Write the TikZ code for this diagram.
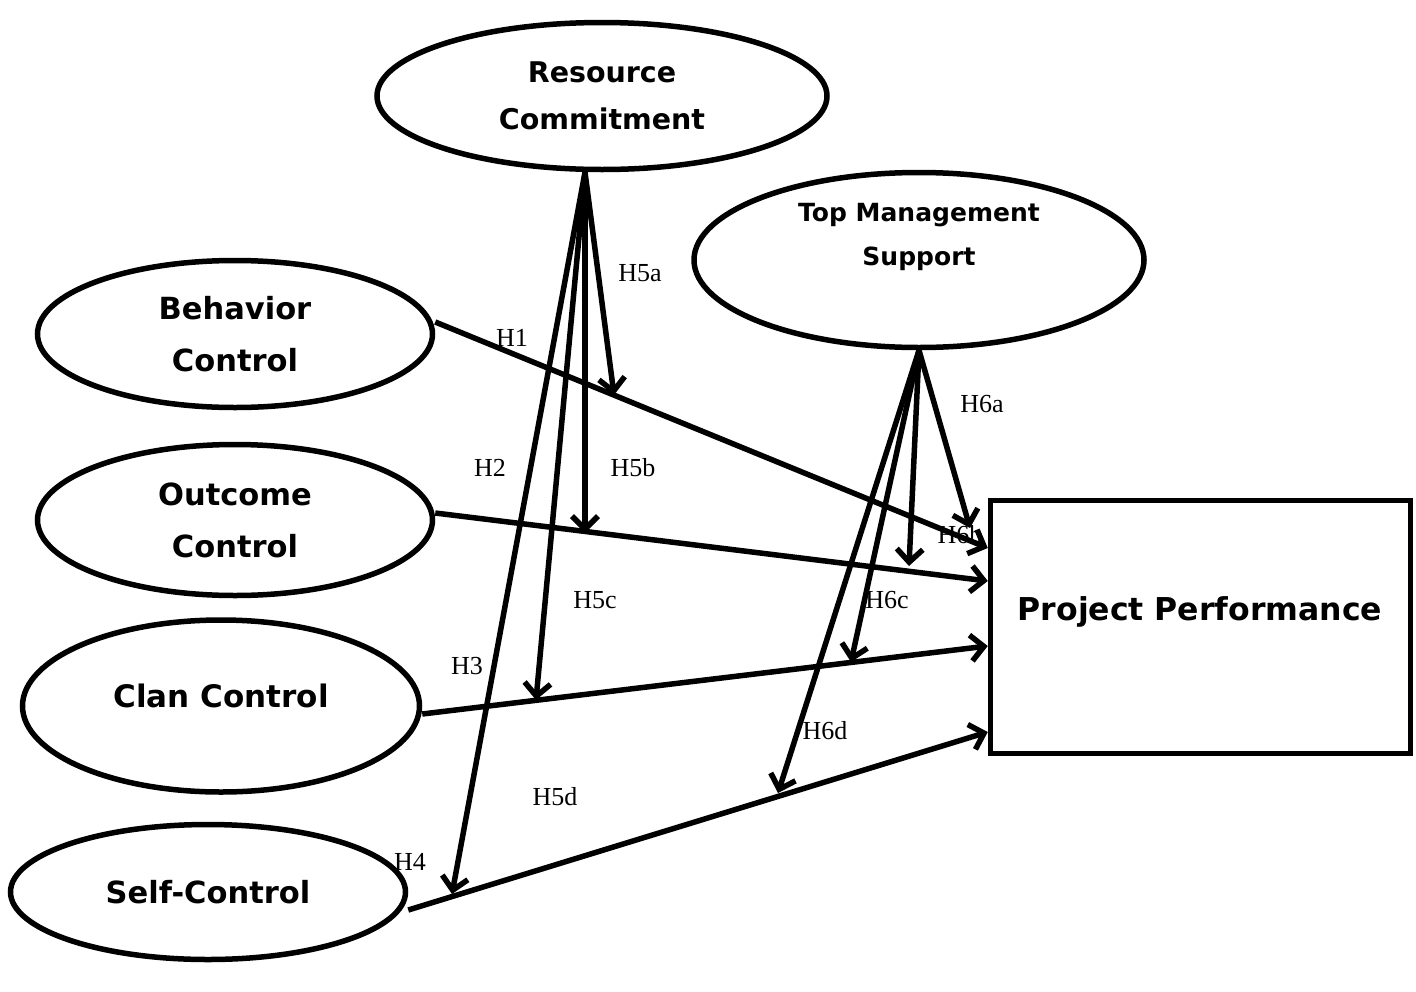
\documentclass[tikz,border=0pt]{standalone}
\usepackage{fontspec}
\setmainfont{Liberation Serif}
\newfontfamily\constructfont{DejaVu Sans}
\usetikzlibrary{shapes.geometric,arrows.meta}

\begin{document}
\begin{tikzpicture}[x=1pt,y=-1pt,
  construct/.style={ellipse, draw, line width=5.5pt, inner sep=0pt, align=center,
    font=\constructfont\bfseries\fontsize{30.5}{52}\selectfont},
  outcomebox/.style={rectangle, draw, line width=5.5pt, inner sep=0pt},
  path/.style={line width=5.5pt, -{Straight Barb[length=13pt,width=26pt]}},
  hyp/.style={font=\fontsize{26}{26}\selectfont, inner sep=0pt}]

\useasboundingbox (0,0) rectangle (1416,991);

% constructs
\node[construct, minimum width=450pt, minimum height=147pt,
      font=\constructfont\bfseries\fontsize{28.5}{47}\selectfont] (rc) at (602,96) {Resource\\Commitment};
\node[construct, minimum width=450pt, minimum height=175pt] (tms) at (919,260) {};
\node[font=\constructfont\bfseries\fontsize{25}{44}\selectfont, align=center] (tmst) at (919,237) {Top Management\\Support};
\node[construct, minimum width=395pt, minimum height=147pt] (bc) at (235,334) {Behavior\\Control};
\node[construct, minimum width=395pt, minimum height=151pt] (oc) at (235,520) {Outcome\\Control};
\node[construct, minimum width=397pt, minimum height=172pt] (cc) at (221,706) {};
\node[font=\constructfont\bfseries\fontsize{31}{36}\selectfont] (cct) at (221,696) {Clan Control};
\node[construct, minimum width=395pt, minimum height=135pt] (sc) at (208,892) {Self-Control};

\node[outcomebox, minimum width=420pt, minimum height=253pt] (pp) at (1200.5,627) {};
\node[font=\constructfont\bfseries\fontsize{31.5}{36}\selectfont] (ppt) at (1200,612) {Project Performance};

% end points of the moderating paths
\coordinate (m5a) at (614,395);
\coordinate (m5b) at (585,533);
\coordinate (m5c) at (536,700);
\coordinate (m5d) at (452,894);
\coordinate (m6a) at (970,528);
\coordinate (m6b) at (909,566);
\coordinate (m6c) at (851,662);
\coordinate (m6d) at (778,793);

% direct effects
\draw[path] ([yshift=12pt]bc.east) -- ([yshift=79pt]pp.west);
\draw[path] ([yshift=7pt]oc.east) -- ([yshift=46pt]pp.west);
\draw[path] ([yshift=-8pt]cc.east) -- ([yshift=-19pt]pp.west);
\draw[path] ([yshift=-18pt]sc.east) -- ([yshift=-105pt]pp.west);

% moderation by resource commitment
\draw[path] ([xshift=-17pt]rc.south) -- (m5a);
\draw[path] ([xshift=-17pt]rc.south) -- (m5b);
\draw[path] ([xshift=-17pt]rc.south) -- (m5c);
\draw[path] ([xshift=-17pt]rc.south) -- (m5d);

% moderation by top management support
\draw[path] (tms.south) -- (m6a);
\draw[path] (tms.south) -- (m6b);
\draw[path] (tms.south) -- (m6c);
\draw[path] (tms.south) -- (m6d);

% hypothesis labels
\node[hyp] (h1) at (512,338) {H1};
\node[hyp] (h2) at (490,468) {H2};
\node[hyp] (h3) at (467,666) {H3};
\node[hyp] (h4) at (410,862) {H4};
\node[hyp] (h5a) at (640,273) {H5a};
\node[hyp] (h5b) at (633,468) {H5b};
\node[hyp] (h5c) at (595,600) {H5c};
\node[hyp] (h5d) at (555,797) {H5d};
\node[hyp] (h6a) at (982,404) {H6a};
\node[hyp] (h6b) at (960,535) {H6b};
\node[hyp] (h6c) at (887,600) {H6c};
\node[hyp] (h6d) at (825,731) {H6d};
\end{tikzpicture}
\end{document}
